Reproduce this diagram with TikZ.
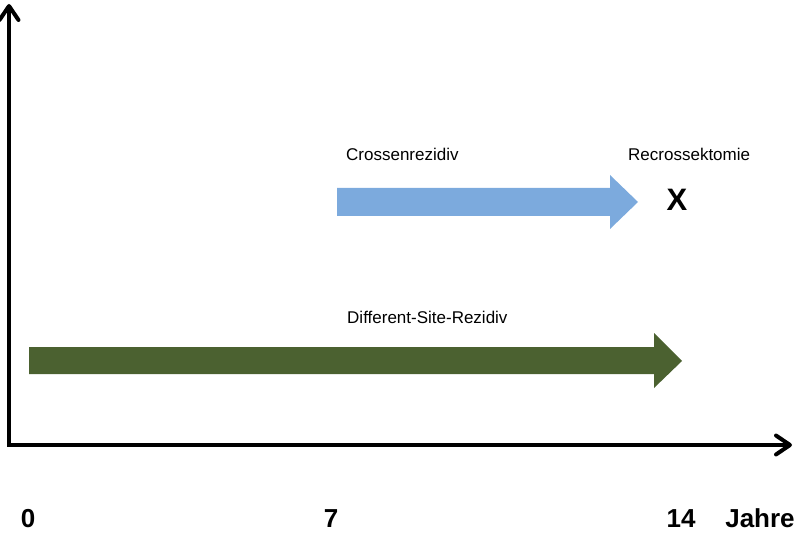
\documentclass[tikz,border=0pt]{standalone}
\usepackage{fontspec}
\setmainfont{Liberation Sans}
\usetikzlibrary{arrows.meta}
\definecolor{blueArr}{RGB}{124,170,221}
\definecolor{greenArr}{RGB}{75,97,48}
\tikzset{
  axis/.style={line width=3.3pt, -{Straight Barb[length=14pt,width=19pt,line width=4pt,round]}},
  lbl/.style={font=\fontsize{17}{20}\selectfont, anchor=base west, inner sep=0pt},
  tick/.style={font=\fontsize{26}{30}\selectfont\bfseries, anchor=base, inner sep=0pt},
}
\begin{document}
\begin{tikzpicture}[x=1pt,y=-1pt]
\useasboundingbox (0,0) rectangle (800,537);
% axes
\coordinate (origin) at (9,445);
\coordinate (ytop) at (9,4);
\coordinate (xend) at (792,445);
\draw[axis] (origin) -- (ytop);
\draw[axis] ([xshift=-1.65pt]origin) -- (xend);
% blue arrow
\fill[blueArr] (337,188) -- (610,188) -- (610,175) -- (638,202) -- (610,229) -- (610,216) -- (337,216) -- cycle;
% green arrow
\fill[greenArr] (29,347) -- (654,347) -- (654,333) -- (682,361) -- (654,388) -- (654,374) -- (29,374) -- cycle;
% labels
\node[lbl] (cr) at (346,161) {Crossenrezidiv};
\node[lbl] (rc) at (628,161) {Recrossektomie};
\node[lbl] (ds) at (347,323) {Different-Site-Rezidiv};
\node[font=\fontsize{31}{34}\selectfont\bfseries, inner sep=0pt] (x) at (677,200) {X};
% ticks
\node[tick] (t0) at (28,527) {0};
\node[tick] (t7) at (331,527) {7};
\node[tick] (t14) at (681,527) {14};
\node[tick] (jahre) at (760,527) {Jahre};
\end{tikzpicture}
\end{document}
